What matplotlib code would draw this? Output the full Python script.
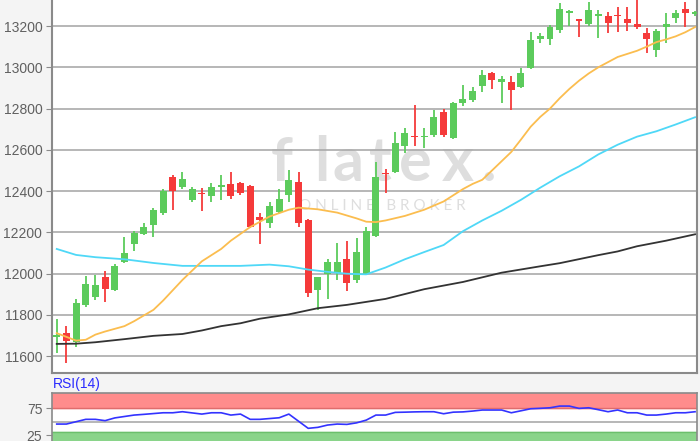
"""Candlestick chart with moving averages and an RSI(14) panel."""
import numpy as np
import matplotlib
matplotlib.use("Agg")
import matplotlib.pyplot as plt

plt.rcParams['font.family'] = ['Liberation Sans', 'DejaVu Sans']

#Daily candles
opens = [11695, 11712, 11671, 11849, 11889, 11983, 11921, 12059, 12144, 12191,
         12236, 12293, 12467, 12422, 12357, 12391, 12377, 12422, 12435, 12441,
         12425, 12276, 12247, 12301, 12382, 12446, 12260, 11921, 11999, 12002,
         12070, 11970, 11999, 12183, 12490, 12494, 12620, 12667, 12660, 12672,
         12784, 12656, 12826, 12842, 12909, 12974, 12930, 12930, 12903, 12995,
         13135, 13135, 13181, 13262, 13232, 13210, 13248, 13248, 13252, 13232,
         13210, 13165, 13084, 13197, 13237, 13281, 13258]
highs = [11780, 11747, 11876, 11989, 11994, 12015, 12045, 12180, 12209, 12247,
         12317, 12409, 12478, 12495, 12422, 12414, 12440, 12478, 12494, 12446,
         12432, 12296, 12349, 12409, 12503, 12494, 12264, 11986, 12070, 12148,
         12160, 12172, 12225, 12543, 12506, 12688, 12704, 12817, 12704, 12793,
         12800, 12832, 12914, 12903, 12987, 12979, 12958, 12958, 12995, 13172,
         13165, 13205, 13310, 13277, 13232, 13318, 13277, 13269, 13294, 13290,
         13340, 13189, 13184, 13262, 13277, 13318, 13275]
lows = [11618, 11569, 11647, 11841, 11873, 11865, 11915, 12050, 12112, 12188,
        12180, 12285, 12309, 12409, 12348, 12305, 12348, 12357, 12361, 12380,
        12222, 12144, 12220, 12293, 12349, 12225, 11889, 11825, 11876, 11970,
        11918, 11954, 11994, 12178, 12390, 12490, 12586, 12620, 12608, 12664,
        12664, 12652, 12813, 12833, 12882, 12893, 12826, 12793, 12898, 12990,
        13116, 13108, 13168, 13200, 13148, 13200, 13140, 13165, 13172, 13177,
        13184, 13071, 13048, 13119, 13213, 13194, 13250]
closes = [11705, 11676, 11857, 11950, 11946, 11925, 12038, 12102, 12199, 12225,
          12309, 12402, 12402, 12458, 12409, 12386, 12422, 12430, 12377, 12393,
          12228, 12262, 12328, 12361, 12454, 12244, 11908, 11983, 12059, 12059,
          11957, 12107, 12209, 12467, 12484, 12635, 12680, 12660, 12667, 12761,
          12672, 12829, 12848, 12887, 12963, 12938, 12942, 12890, 12974, 13132,
          13152, 13197, 13281, 13274, 13225, 13277, 13258, 13213, 13248, 13213,
          13197, 13135, 13177, 13210, 13264, 13262, 13270]

#Moving averages (day index, value)
ma20_days = [0, 2, 3, 4, 5, 7, 8, 10, 11, 13, 15, 17, 18, 20, 22, 24, 25, 27, 29,
             31, 32, 33, 34, 36, 38, 40, 42, 43, 44, 45, 46, 47, 48, 49, 50, 51,
             52, 53, 54, 55, 56, 57, 58, 59, 60, 61, 62, 63, 64, 65, 66]
ma20 = [11712, 11676, 11680, 11705, 11720, 11746, 11770, 11825, 11870, 11970,
        12060, 12120, 12160, 12226, 12277, 12310, 12320, 12312, 12296, 12268,
        12252, 12250, 12258, 12280, 12310, 12350, 12410, 12435, 12455, 12500,
        12545, 12590, 12650, 12712, 12760, 12800, 12850, 12895, 12935, 12970,
        13000, 13025, 13050, 13065, 13080, 13100, 13122, 13135, 13150, 13170,
        13195]

ma50_days = [0, 2, 4, 7, 10, 13, 19, 22, 24, 26, 28, 30, 32, 34, 36, 38, 40, 42,
             44, 46, 48, 50, 52, 54, 56, 58, 60, 62, 64, 66]
ma50 = [12120, 12091, 12080, 12070, 12052, 12038, 12038, 12044, 12036, 12020,
        12009, 12000, 11997, 12030, 12070, 12105, 12139, 12206, 12258, 12305,
        12358, 12417, 12472, 12520, 12578, 12625, 12664, 12690, 12723, 12758]

ma200_days = [0, 2, 4, 7, 10, 13, 15, 17, 19, 21, 24, 27, 30, 34, 38, 42, 46, 50,
              52, 56, 58, 60, 63, 66]
ma200 = [11660, 11661, 11668, 11683, 11699, 11708, 11725, 11746, 11760, 11782,
         11803, 11833, 11849, 11878, 11925, 11960, 12005, 12036, 12051, 12090,
         12108, 12133, 12160, 12191]

#RSI(14)
rsi_days = [0, 1, 3, 4, 5, 6, 8, 9, 11, 12, 13, 15, 16, 17, 18, 19, 20, 21, 23,
            24, 26, 27, 28, 29, 30, 31, 32, 33, 34, 35, 36, 37, 38, 39, 40, 41,
            42, 43, 44, 45, 46, 47, 48, 49, 50, 51, 52, 53, 54, 55, 56, 57, 58,
            59, 60, 61, 62, 63, 64, 65, 66]
rsi = [45.8, 45.8, 54.4, 54.4, 52, 57, 62.2, 63.5, 66.4, 66.4, 68.3, 64, 66.4,
       66.4, 62.2, 64, 54.4, 54.4, 57.3, 64, 38, 39.8, 44, 45.8, 45.2, 48, 53,
       62.2, 62.2, 67.1, 67.5, 68, 68.3, 68.3, 64.6, 67.5, 68, 69.5, 71.4, 71.4,
       71.4, 66.4, 70, 73.7, 74.5, 75.5, 78.6, 78.6, 74.4, 75.5, 72, 68.3, 71.4,
       66.4, 66.4, 62.2, 62.2, 64, 66.4, 66.4, 68.3]

price_ticks = [11600, 11800, 12000, 12200, 12400, 12600, 12800, 13000, 13200]
rsi_ticks = [25, 75]

GREEN = '#5ccb5c'
RED = '#f53a3a'
GRID = '#aaaaaa'
SPINE = '#8a8a8a'
LABEL = '#606060'
WATERMARK = '#dedede'

fig = plt.figure(figsize=(7, 4.41), dpi=100, facecolor='#f4f4f4')
ax = fig.add_axes([52 / 700, 68 / 441, 645 / 700, 373 / 441])
rax = fig.add_axes([52 / 700, 0, 645 / 700, 48.3 / 441])

#Price panel
o = np.array(opens)
c = np.array(closes)
days = np.arange(len(o))
up = c >= o
colors = np.where(up, GREEN, RED)
ax.vlines(days, lows, highs, colors=colors, linewidth=1.3, zorder=3)
body = np.maximum(np.abs(c - o), 6)
ax.bar(days, body, bottom=np.minimum(o, c), width=0.72, color=colors, zorder=4)

ax.plot(ma200_days, ma200, color='#333333', linewidth=1.3, zorder=5)
ax.plot(ma50_days, ma50, color='#4fd8f7', linewidth=1.3, zorder=5)
ax.plot(ma20_days, ma20, color='#fbbd4f', linewidth=1.3, zorder=5)

#Watermark
wm_letters = ['f', 'l', 'a', 't', 'e', 'x', '.']
wm_x = [282, 322, 348, 380, 415, 458, 489]
for letter, px in zip(wm_letters, wm_x):
    ax.text((px - 52) / 645, 1 - 181 / 373, letter, transform=ax.transAxes,
            fontsize=44, fontweight='bold', color=WATERMARK, ha='center',
            va='baseline', family='Lato', zorder=0.2)
ax.text((382 - 52) / 645, 1 - 206 / 373, 'O N L I N E   B R O K E R',
        transform=ax.transAxes, fontsize=11, color=WATERMARK, ha='center',
        va='center', family='Lato', zorder=0.2)

ax.set_xlim(-0.49, 66.2)
ax.set_ylim(11519, 13326)
ax.set_yticks(price_ticks)
ax.set_xticks([])
ax.grid(axis='y', color=GRID, linewidth=1.2)
ax.set_axisbelow(True)
ax.tick_params(axis='y', length=4, color=SPINE, labelcolor=LABEL, labelsize=10, pad=3)
ax.spines['top'].set_visible(False)
for side in ['left', 'bottom', 'right']:
    ax.spines[side].set_color(SPINE)
    ax.spines[side].set_linewidth(1.5)

#RSI panel
rax.axhspan(75, 103, color='#ff8c8c', zorder=1)
rax.axhline(75, color='#e06c6c', linewidth=1, zorder=1.5)
rax.axhspan(0, 31, color='#8ad48a', zorder=1)
rax.axhline(31, color='#6cbf6c', linewidth=1, zorder=1.5)
rax.axhline(50, color=GRID, linewidth=1.2, zorder=1.5)
rax.plot(rsi_days, rsi, color='#3333ff', linewidth=1.2, zorder=3)
rax.set_xlim(-0.49, 66.2)
rax.set_ylim(14.9, 103)
rax.set_yticks(rsi_ticks)
rax.set_xticks([])
rax.tick_params(axis='y', length=4, color=SPINE, labelcolor=LABEL, labelsize=10, pad=3)
rax.spines['bottom'].set_visible(False)
for side in ['left', 'top', 'right']:
    rax.spines[side].set_color(SPINE)
    rax.spines[side].set_linewidth(1.2)

fig.text(53 / 700, 1 - 384 / 441, 'RSI(14)', color='#2b2bff', fontsize=10,
         ha='left', va='center')

fig.savefig('out.png', dpi=100, facecolor=fig.get_facecolor())
